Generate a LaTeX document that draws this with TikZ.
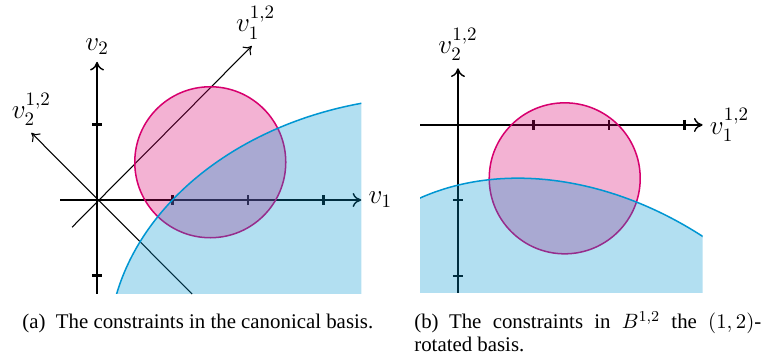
\documentclass[tikz,border=0pt]{standalone}
\usepackage[no-math]{fontspec}
\setmainfont{Liberation Serif}
\usepackage{amsmath}
\usepackage{xcolor}
\definecolor{ballMagenta}{HTML}{D7006E}
\definecolor{consCyan}{HTML}{0096D2}
\usetikzlibrary{arrows.meta}

\begin{document}
\begin{tikzpicture}[x=1.4cm, y=1.4cm,
    every node/.style={font=\Large},
    axis/.style={line width=1.1pt,
                 -{To[length=1.6mm, width=2.6mm, line width=0.75pt]}},
    raxis/.style={line width=0.56pt, -{To[length=1.4mm, width=2.2mm]}},
    tick/.style={line width=1.1pt},
    ball/.style={draw=ballMagenta, fill=ballMagenta, fill opacity=0.3,
                 line width=0.8pt},
    cons/.style={draw=consCyan, fill=consCyan, fill opacity=0.3,
                 line width=0.8pt},
    capt/.style={font=\fontsize{11}{11.7}\selectfont, inner sep=0pt}]
  \useasboundingbox (0,0) rectangle (10.146,4.768);

  \begin{scope}[shift={(1.285,2.119)}]
    \coordinate (aW) at (-0.49,0);
    \coordinate (aE) at (3.5,0);
    \coordinate (aS) at (0,-1.245);
    \coordinate (aN) at (0,1.83);
    \coordinate (rSW) at (-0.33,-0.36);
    \coordinate (rNE) at (2.05,2.04);
    \coordinate (rSE) at (1.26,-1.245);
    \coordinate (rNW) at (-0.87,0.89);
    \draw[axis] (aW) -- (aE) node[right] (v1a) {$v_1$};
    \draw[axis] (aS) -- (aN) node[above] (v2a) {$v_2$};
    \draw[raxis] (rSW) -- (rNE) node[above, xshift=2pt] (w1a) {$v_1^{1,2}$};
    \draw[raxis] (rSE) -- (rNW) node[above] (w2a) {$v_2^{1,2}$};
    \foreach \i in {1,2,3}
      \draw[tick] (\i,0.066) -- (\i,-0.066);
    \foreach \j in {-1,1}
      \draw[tick] (-0.066,\j) -- (0.066,\j);
    \draw[ball] (1.5,0.5) circle [radius=1];
    \begin{scope}
      \clip (-0.49,-1.245) rectangle (3.5,2.5);
      \draw[cons] (4.5,-2) ellipse [x radius=4.35, y radius=3.37];
    \end{scope}
  \end{scope}

  \begin{scope}[shift={(6.066,3.113)}]
    \coordinate (bW) at (-0.5,0);
    \coordinate (bE) at (3.24,0);
    \coordinate (bS) at (0,-2.22);
    \coordinate (bN) at (0,0.75);
    \draw[axis] (bW) -- (bE) node[right] (w1b) {$v_1^{1,2}$};
    \draw[axis] (bS) -- (bN) node[above] (w2b) {$v_2^{1,2}$};
    \foreach \i in {1,2,3}
      \draw[tick] (\i,0.066) -- (\i,-0.066);
    \foreach \j in {-1,-2}
      \draw[tick] (-0.066,\j) -- (0.066,\j);
    \draw[ball] (1.414,-0.707) circle [radius=1];
    \begin{scope}
      \clip (-0.5,-2.22) rectangle (3.24,1);
      \draw[cons, rotate=-45] (4.5,-2) ellipse [x radius=4.35, y radius=3.37];
    \end{scope}
  \end{scope}

  \node[capt, anchor=base west] (capA) at (0.291,0.411)
    {(a)\enspace The constraints in the canonical basis.};
  \node[capt, anchor=base west, text width=6.434cm, align=justify] (capB)
    at (5.483,0.411)
    {(b)\enspace The constraints in $B^{1,2}$ the $(1,2)$-\linebreak rotated basis.};
\end{tikzpicture}
\end{document}
